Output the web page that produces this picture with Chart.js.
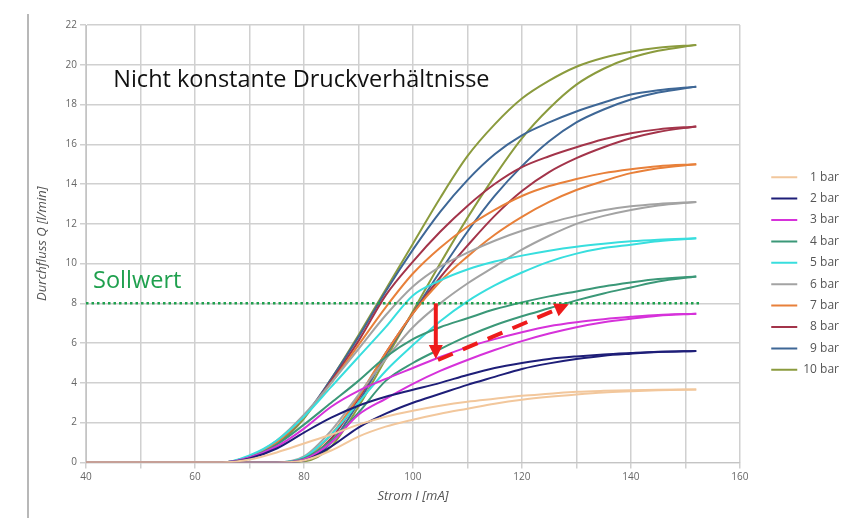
<!DOCTYPE html>
<html>
<head>
<meta charset="utf-8">
<script src="https://cdn.jsdelivr.net/npm/chart.js@4.4.0/dist/chart.umd.min.js"></script>
<style>
  body { margin: 0; background: #fff; }
  #wrap { position: relative; width: 852px; height: 518px; }
  #rand { position: absolute; left: 27px; top: 14px; width: 2px; height: 504px; background: #b8b8b8; }
  canvas { position: absolute; left: 0; top: 0; }
</style>
</head>
<body>
<div id="wrap">
  <div id="rand"></div>
  <canvas id="myChart" width="852" height="518"></canvas>
</div>
<script>
// Strom I [mA] - Stuetzstellen
const strom = [40, 60, 65, 70, 75, 80, 85, 90, 95, 100, 105, 110, 115, 120, 125, 130, 135, 140, 145, 152]

// Durchfluss Q [l/min], linke Kurve (frueh ansteigend) und rechte Kurve je Druck
const q1Links  = [0, 0, 0, 0.15, 0.5, 0.95, 1.4, 1.9, 2.3, 2.6, 2.85, 3.05, 3.2, 3.35, 3.45, 3.55, 3.6, 3.63, 3.65, 3.67]
const q1Rechts = [0, 0, 0, 0, 0, 0.1, 0.6, 1.3, 1.8, 2.15, 2.45, 2.7, 2.95, 3.15, 3.3, 3.42, 3.52, 3.58, 3.63, 3.67]
const q2Links  = [0, 0, 0, 0.2, 0.7, 1.5, 2.25, 2.85, 3.3, 3.65, 4.0, 4.4, 4.75, 5.0, 5.2, 5.33, 5.43, 5.5, 5.56, 5.6]
const q2Rechts = [0, 0, 0, 0, 0, 0.1, 0.8, 1.75, 2.45, 3.0, 3.45, 3.9, 4.3, 4.7, 4.98, 5.2, 5.37, 5.47, 5.55, 5.6]
const q3Links  = [0, 0, 0, 0.25, 0.8, 1.7, 2.8, 3.6, 4.2, 4.75, 5.3, 5.8, 6.2, 6.55, 6.85, 7.05, 7.2, 7.32, 7.42, 7.48]
const q3Rechts = [0, 0, 0, 0, 0, 0.15, 1.0, 2.4, 3.2, 3.95, 4.6, 5.15, 5.65, 6.1, 6.48, 6.8, 7.05, 7.23, 7.38, 7.48]
const q4Links  = [0, 0, 0, 0.25, 0.9, 1.9, 3.0, 4.1, 5.3, 6.2, 6.8, 7.25, 7.7, 8.05, 8.35, 8.6, 8.85, 9.05, 9.22, 9.35]
const q4Rechts = [0, 0, 0, 0, 0, 0.2, 1.1, 2.5, 4.1, 5.0, 5.7, 6.35, 6.9, 7.35, 7.75, 8.15, 8.5, 8.8, 9.1, 9.35]
const q5Links  = [0, 0, 0, 0.35, 1.1, 2.3, 3.8, 5.3, 6.8, 8.4, 9.15, 9.7, 10.1, 10.4, 10.65, 10.85, 11.0, 11.12, 11.2, 11.27]
const q5Rechts = [0, 0, 0, 0, 0, 0.25, 1.4, 3.0, 4.6, 5.9, 7.1, 8.1, 8.9, 9.55, 10.1, 10.5, 10.78, 10.95, 11.12, 11.27]
const q6Links  = [0, 0, 0, 0.3, 1.1, 2.4, 4.0, 5.7, 7.4, 8.85, 9.85, 10.55, 11.15, 11.65, 12.05, 12.4, 12.68, 12.88, 13.0, 13.1]
const q6Rechts = [0, 0, 0, 0, 0, 0.3, 1.6, 3.4, 5.2, 6.8, 8.0, 9.0, 9.85, 10.7, 11.4, 12.0, 12.4, 12.7, 12.92, 13.1]
const q7Links  = [0, 0, 0, 0.3, 1.0, 2.3, 4.0, 5.9, 7.8, 9.5, 10.8, 11.85, 12.7, 13.4, 13.9, 14.25, 14.55, 14.75, 14.9, 15.0]
const q7Rechts = [0, 0, 0, 0, 0, 0.2, 1.4, 3.3, 5.5, 7.5, 9.1, 10.35, 11.45, 12.35, 13.1, 13.7, 14.15, 14.55, 14.8, 15.0]
const q8Links  = [0, 0, 0, 0.3, 1.0, 2.3, 4.1, 6.1, 8.4, 10.1, 11.6, 12.9, 14.0, 14.85, 15.4, 15.85, 16.25, 16.55, 16.75, 16.9]
const q8Rechts = [0, 0, 0, 0, 0, 0.15, 1.2, 3.2, 5.5, 7.5, 9.3, 10.9, 12.4, 13.65, 14.6, 15.3, 15.85, 16.3, 16.62, 16.9]
const q9Links  = [0, 0, 0, 0.3, 1.0, 2.3, 4.2, 6.3, 8.6, 10.7, 12.6, 14.2, 15.5, 16.45, 17.1, 17.65, 18.1, 18.5, 18.72, 18.9]
const q9Rechts = [0, 0, 0, 0, 0, 0.1, 1.0, 3.0, 5.4, 7.5, 9.6, 11.6, 13.4, 14.9, 16.15, 17.1, 17.75, 18.25, 18.6, 18.9]
const q10Links  = [0, 0, 0, 0.25, 0.9, 2.2, 4.2, 6.4, 8.7, 11.0, 13.3, 15.4, 17.0, 18.3, 19.2, 19.9, 20.35, 20.65, 20.85, 21.0]
const q10Rechts = [0, 0, 0, 0, 0, 0.05, 0.8, 2.8, 5.2, 7.6, 10.0, 12.3, 14.4, 16.3, 17.8, 19.0, 19.8, 20.35, 20.7, 21.0]

const drucke = ['1 bar', '2 bar', '3 bar', '4 bar', '5 bar', '6 bar', '7 bar', '8 bar', '9 bar', '10 bar']
const farben = ['#f2c79c', '#1e1e78', '#d632da', '#3b9878', '#38dede', '#a3a3a3', '#e8803a', '#a3344a', '#3e6796', '#8b9b3e']

// Sollwert-Linie
const sollStrom = [40, 153]
const sollWert = [8, 8]

// Pfeile (Strom, Durchfluss)
const pfeilSenkrecht = [[104.2, 8.0], [104.2, 5.2]]
const pfeilSchraeg = [[104.6, 5.15], [128.6, 7.95]]

const linksKurven = [q1Links, q2Links, q3Links, q4Links, q5Links, q6Links, q7Links, q8Links, q9Links, q10Links]
const rechtsKurven = [q1Rechts, q2Rechts, q3Rechts, q4Rechts, q5Rechts, q6Rechts, q7Rechts, q8Rechts, q9Rechts, q10Rechts]

function punkte(xs, ys) {
  return xs.map((x, i) => ({ x: x, y: ys[i] }))
}

const datasets = [{
  label: 'Sollwert',
  data: punkte(sollStrom, sollWert),
  borderColor: '#1fa04e',
  borderWidth: 2.5,
  borderDash: [2.5, 3],
  pointRadius: 0,
  imLegend: false
}]

drucke.forEach((name, i) => {
  // figure space keeps the numbers right-aligned like in the original legend
  const label = name.length < 6 ? '\u2007' + name : name
  datasets.push({
    label: label,
    data: punkte(strom, linksKurven[i]),
    borderColor: farben[i],
    backgroundColor: farben[i],
    borderWidth: 2,
    pointRadius: 0,
    cubicInterpolationMode: 'monotone',
    imLegend: true
  })
  datasets.push({
    label: label,
    data: punkte(strom, rechtsKurven[i]),
    borderColor: farben[i],
    backgroundColor: farben[i],
    borderWidth: 2,
    pointRadius: 0,
    cubicInterpolationMode: 'monotone',
    imLegend: false
  })
})

function pfeil(ctx, x1, y1, x2, y2, dash) {
  const ang = Math.atan2(y2 - y1, x2 - x1)
  const kopf = 14
  const breite = 7
  const bx = x2 - kopf * Math.cos(ang)
  const by = y2 - kopf * Math.sin(ang)
  ctx.strokeStyle = '#ee1b1b'
  ctx.fillStyle = '#ee1b1b'
  ctx.lineWidth = 4
  ctx.setLineDash(dash)
  ctx.beginPath()
  ctx.moveTo(x1, y1)
  ctx.lineTo(bx, by)
  ctx.stroke()
  ctx.setLineDash([])
  ctx.beginPath()
  ctx.moveTo(x2, y2)
  ctx.lineTo(bx + breite * Math.sin(ang), by - breite * Math.cos(ang))
  ctx.lineTo(bx - breite * Math.sin(ang), by + breite * Math.cos(ang))
  ctx.closePath()
  ctx.fill()
}

const beschriftung = {
  id: 'beschriftung',
  // legend sits a bit further right and lower than Chart.js would put it
  afterLayout(chart) {
    const lg = chart.legend
    if (!lg) return
    lg.left += 22
    lg.right += 22
    lg.top += 7
    lg.bottom += 7
  },
  afterDatasetsDraw(chart) {
    const ctx = chart.ctx
    const x = chart.scales.x
    const y = chart.scales.y
    ctx.save()
    ctx.textBaseline = 'alphabetic'
    ctx.font = '23.5px "Open Sans"'
    ctx.fillStyle = '#111'
    ctx.fillText('Nicht konstante Druckverhältnisse', x.getPixelForValue(45), y.getPixelForValue(18.9))
    ctx.fillStyle = '#1fa04e'
    ctx.fillText('Sollwert', x.getPixelForValue(41.3), y.getPixelForValue(8.75))

    pfeil(ctx,
      x.getPixelForValue(pfeilSenkrecht[0][0]), y.getPixelForValue(pfeilSenkrecht[0][1]),
      x.getPixelForValue(pfeilSenkrecht[1][0]), y.getPixelForValue(pfeilSenkrecht[1][1]), [])
    pfeil(ctx,
      x.getPixelForValue(pfeilSchraeg[0][0]), y.getPixelForValue(pfeilSchraeg[0][1]),
      x.getPixelForValue(pfeilSchraeg[1][0]), y.getPixelForValue(pfeilSchraeg[1][1]), [16, 11])
    ctx.restore()
  }
}

const ctx = document.getElementById('myChart')
new Chart(ctx, {
  type: 'line',
  data: { datasets: datasets },
  plugins: [beschriftung],
  options: {
    responsive: false,
    animation: false,
    layout: { padding: { left: 30, right: 25, top: 25, bottom: 10 } },
    plugins: {
      tooltip: { enabled: false },
      legend: {
        position: 'right',
        labels: {
          filter: (item, data) => data.datasets[item.datasetIndex].imLegend,
          usePointStyle: true,
          pointStyle: 'line',
          pointStyleWidth: 26,
          padding: 9.4,
          color: '#555',
          font: { family: '"Open Sans"', size: 12 }
        }
      }
    },
    scales: {
      x: {
        type: 'linear',
        min: 40,
        max: 160,
        ticks: {
          stepSize: 10,
          color: '#666',
          font: { family: '"Open Sans"', size: 10 },
          callback: v => (v % 20 === 0 ? v : '')
        },
        grid: { color: '#d0d0d0', lineWidth: 1.5, tickLength: 6 },
        border: { color: '#c4c4c4' },
        title: {
          display: true,
          text: 'Strom I [mA]',
          color: '#555',
          padding: { top: 2, bottom: 4 },
          font: { family: '"Open Sans"', size: 13, style: 'italic' }
        }
      },
      y: {
        min: 0,
        max: 22,
        ticks: {
          stepSize: 2,
          color: '#666',
          font: { family: '"Open Sans"', size: 10 }
        },
        grid: { color: '#d0d0d0', lineWidth: 1.5, tickLength: 6 },
        border: { color: '#c4c4c4' },
        title: {
          display: true,
          text: 'Durchfluss Q [l/min]',
          color: '#555',
          font: { family: '"Open Sans"', size: 13, style: 'italic' }
        },
        afterFit: scale => { scale.width = 56 }
      }
    }
  }
})
</script>
</body>
</html>
